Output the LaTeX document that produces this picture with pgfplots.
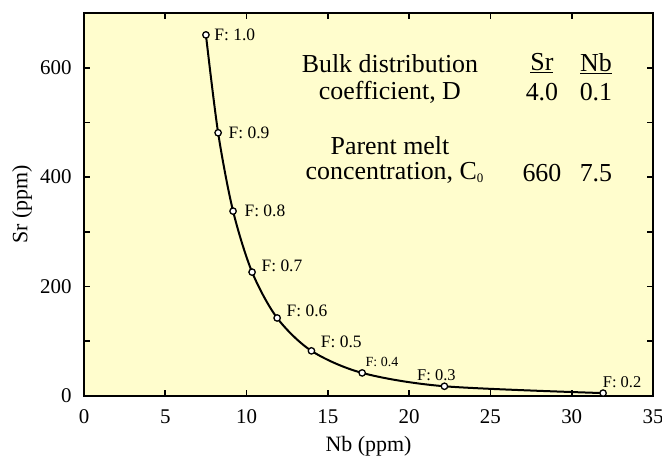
\documentclass[border=0pt]{standalone}
\usepackage{fontspec}
\setmainfont{Liberation Serif}
\usepackage{pgfplots}
\pgfplotsset{compat=1.18}
\definecolor{bgy}{RGB}{255,253,205}
\begin{document}
\begin{tikzpicture}
\begin{axis}[
  at={(0,0)}, anchor=south west,
  scale only axis, width=569bp, height=383bp,
  xmin=0, xmax=35, ymin=0, ymax=700,
  axis background/.style={fill=bgy},
  axis line style={line width=2bp},
  xtick={0,5,...,35}, ytick={0,200,400,600},
  minor ytick={100,300,500},
  tick align=inside,
  major tick length=6bp, minor tick length=6bp,
  tick style={line width=1.6bp, black},
  /pgf/number format/assume math mode=true,
  tick label style={font=\fontsize{21}{24}\selectfont},
  xticklabel style={yshift=-10bp},
  yticklabel style={xshift=-9bp},
  xlabel={Nb (ppm)}, ylabel={Sr (ppm)},
  label style={font=\fontsize{22}{25}\selectfont},
  xlabel style={at={(axis description cs:0.5,0)}, anchor=south, inner sep=0pt, yshift=-60.5bp},
  ylabel style={at={(axis description cs:-0.109,0.5)}, anchor=center},
  clip=false,
]
\addplot[black, line width=2bp, smooth, mark=*, mark size=3.2bp,
  mark options={fill=white, draw=black, line width=1.3bp}]
  coordinates {
  (7.50,660.0) (8.25,481.1) (9.17,337.9) (10.34,226.4) (11.88,142.6)
  (13.99,82.5) (17.11,42.2) (22.17,17.8) (31.93,5.3)
  };
\begin{scope}[font=\fontsize{17.5}{20}\selectfont]
\node[anchor=west, xshift=5bp] at (axis cs:7.50,660) {F: 1.0};
\node[anchor=west, xshift=7bp] at (axis cs:8.25,481.1) {F: 0.9};
\node[anchor=west, xshift=8bp] at (axis cs:9.17,337.9) {F: 0.8};
\node[anchor=west, xshift=6bp, yshift=6bp] at (axis cs:10.34,226.4) {F: 0.7};
\node[anchor=west, xshift=6bp, yshift=7bp] at (axis cs:11.88,142.6) {F: 0.6};
\node[anchor=west, xshift=6bp, yshift=9bp] at (axis cs:13.99,82.5) {F: 0.5};
\node[anchor=south west, font=\fontsize{14}{16}\selectfont, xshift=0bp, yshift=3bp] at (axis cs:17.11,42.2) {F: 0.4};
\node[anchor=south, font=\fontsize{16.5}{18}\selectfont, xshift=-8bp, yshift=2bp] at (axis cs:22.17,17.8) {F: 0.3};
\node[anchor=south, font=\fontsize{16.5}{18}\selectfont, xshift=19bp, yshift=2bp] at (axis cs:31.93,5.3) {F: 0.2};
\end{scope}
\begin{scope}[font=\fontsize{26}{29}\selectfont]
\node at (axis cs:18.82,607.7) {Bulk distribution};
\node at (axis cs:18.82,554.7) {coefficient, D};
\node at (axis cs:18.82,458) {Parent melt};
\node at (axis cs:19.1,407) {concentration, C\raisebox{-0.1em}{\fontsize{13}{14}\selectfont 0}};
\node at (axis cs:28.17,607.7) {\underline{Sr}};
\node at (axis cs:31.49,607.7) {\underline{Nb}};
\node at (axis cs:28.17,554.7) {4.0};
\node at (axis cs:31.49,554.7) {0.1};
\node at (axis cs:28.17,407) {660};
\node at (axis cs:31.49,407) {7.5};
\end{scope}
\end{axis}
\pgfresetboundingbox
\path[use as bounding box] (-84bp,-61bp) rectangle (578bp,396bp);
\end{tikzpicture}
\end{document}
